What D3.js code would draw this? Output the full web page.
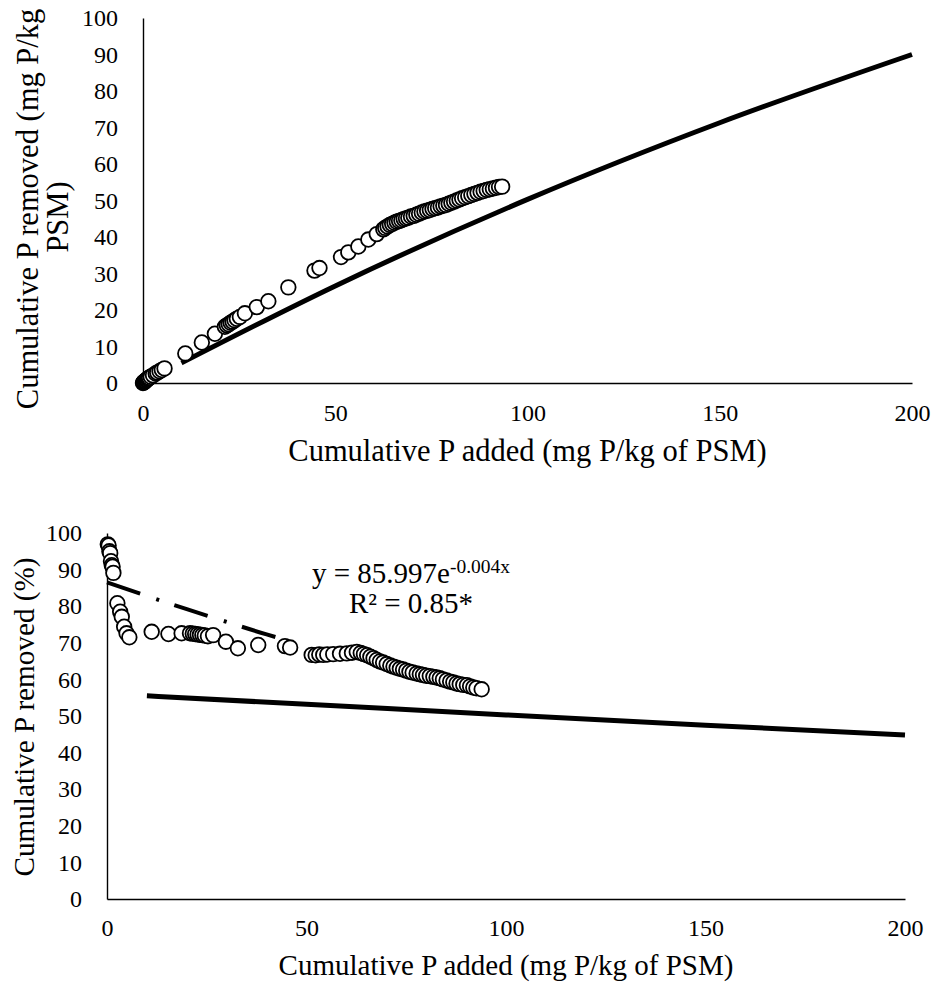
<!DOCTYPE html>
<html>
<head>
<meta charset="utf-8">
<script src="https://cdn.jsdelivr.net/npm/d3@7"></script>
<style>
  html, body { margin: 0; padding: 0; background: #fff; }
  text { font-family: "Liberation Serif", "Times New Roman", serif; fill: #000; }
</style>
</head>
<body>
<svg id="chart" width="935" height="987"></svg>
<script>
// ---------- DATA ----------
const xTicks = [0, 50, 100, 150, 200];
const yTicks = [0, 10, 20, 30, 40, 50, 60, 70, 80, 90, 100];

// Top panel: cumulative P added vs cumulative P removed (mg P/kg PSM)
const topAdded = [0, 0.1, 0.2, 0.3, 0.4, 0.5, 0.6, 0.8, 1.0, 1.2, 1.4, 1.6, 2.0, 2.6, 3.3, 3.7, 4.3, 4.9, 5.6,
  11.0, 15.3, 18.7, 21.3, 21.8, 22.3, 22.8, 23.3, 23.8, 24.4, 25.2, 26.5, 29.6, 32.6, 37.8, 44.6, 45.9,
  51.5, 53.4, 56.0, 58.6, 60.8, 62.5, 63.0, 63.6, 64.2, 64.8, 65.4, 66.0, 66.6, 67.2, 67.8, 68.4, 69.0,
  69.7, 70.4, 71.1, 71.8, 72.5, 73.2, 73.9, 74.6, 75.3, 76.0, 76.7, 77.4, 78.1, 78.8, 79.5, 80.2, 80.9,
  81.6, 82.3, 83.0, 83.8, 84.6, 85.4, 86.2, 87.0, 87.8, 88.6, 89.4, 90.2, 91.0, 91.8, 92.6, 93.4];
const topRemoved = [0, 0.1, 0.19, 0.29, 0.38, 0.47, 0.57, 0.74, 0.92, 1.09, 1.26, 1.43, 1.7, 2.1, 2.6, 2.85, 3.2, 3.56, 4.0,
  8.1, 11.1, 13.5, 15.4, 15.8, 16.1, 16.5, 16.8, 17.2, 17.6, 18.1, 19.1, 20.8, 22.4, 26.2, 30.8, 31.5,
  34.5, 35.8, 37.4, 39.3, 40.8, 42.1, 42.5, 42.9, 43.3, 43.6, 43.9, 44.2, 44.4, 44.6, 44.9, 45.1, 45.3,
  45.6, 45.8, 46.1, 46.4, 46.7, 47.0, 47.2, 47.4, 47.7, 47.9, 48.1, 48.4, 48.6, 48.8, 49.1, 49.4, 49.7,
  50.0, 50.3, 50.6, 50.9, 51.2, 51.5, 51.8, 52.1, 52.4, 52.6, 52.9, 53.1, 53.3, 53.5, 53.7, 53.8];

// Bottom panel: cumulative P added vs cumulative P removed (%)
const botAdded = [0.2, 0.4, 0.6, 0.8, 1.0, 1.2, 1.4, 1.6, 2.6, 3.3, 3.7, 4.3, 4.9, 5.6,
  11.2, 15.4, 18.7, 20.8, 21.5, 22.1, 22.7, 23.3, 23.9, 24.5, 25.3, 26.6, 29.8, 32.8, 37.9, 44.6, 45.9,
  51.3, 52.3, 53.2, 54.2, 55.2, 56.7, 58.4, 60.1, 61.4, 62.6, 63.6, 64.4, 65.2, 66.0, 66.8, 67.6, 68.4,
  69.2, 70.1, 71.0, 71.8, 72.6, 73.4, 74.2, 75.0, 75.8, 76.6, 77.6, 78.4, 79.2, 80.0, 80.9, 81.8, 82.6,
  83.4, 84.2, 85.1, 86.0, 86.8, 87.6, 88.4, 89.3, 90.2, 91.0, 91.8, 92.6, 93.9];
const botPct = [96.9, 96.6, 95.0, 94.5, 92.3, 91.2, 90.8, 89.1, 80.8, 78.5, 77.1, 74.4, 72.6, 71.5,
  73.0, 72.4, 72.6, 72.6, 72.5, 72.4, 72.3, 72.2, 72.1, 72.0, 71.8, 72.1, 70.3, 68.5, 69.4, 69.1, 68.7,
  66.7, 66.6, 66.8, 66.7, 66.8, 66.9, 67.0, 67.1, 67.3, 67.5, 67.2, 66.9, 66.6, 66.2, 65.8, 65.3, 64.9,
  64.6, 64.2, 63.8, 63.5, 63.2, 62.9, 62.7, 62.4, 62.1, 61.9, 61.6, 61.4, 61.2, 61.0, 60.9, 60.7, 60.5,
  60.3, 60.0, 59.7, 59.4, 59.2, 58.9, 58.7, 58.5, 58.4, 58.1, 57.8, 57.6, 57.3];

// Solid reference lines
const topLineX = [10, 50, 100, 150, 200];
const topLineY = [5.5, 26.6, 50.3, 71.3, 90.0];
const botLineX = [10, 50, 100, 150, 200];
const botLineY = [55.5, 53.2, 50.3, 47.5, 44.8];

// Exponential trend line (y = 85.997e^-0.004x), as drawn
const trendX = [0, 10, 20, 30, 40, 46];
const trendY = [86.5, 82.8, 79.2, 75.7, 72.3, 70.4];

const yTitleTop = ["Cumulative P removed (mg P/kg", "PSM)"];
const yTitleBot = "Cumulative P removed (%)";
const xTitle = "Cumulative P added (mg P/kg of PSM)";

// ---------- DRAW ----------
const svg = d3.select("#chart");
const SERIF = "'Liberation Serif', 'Times New Roman', serif";

function panel(cfg) {
  const x = d3.scaleLinear().domain([0, 200]).range([cfg.x0, cfg.x1]);
  const y = d3.scaleLinear().domain([0, 100]).range([cfg.y0, cfg.y1]);
  const g = svg.append("g");

  const xAxis = g.append("g").attr("transform", `translate(0,${cfg.y0})`)
    .call(d3.axisBottom(x).tickValues(xTicks).tickSize(0).tickPadding(cfg.xPad).tickFormat(d3.format("d")));
  xAxis.attr("font-size", 24).attr("font-family", SERIF);
  xAxis.select(".domain").attr("stroke", "#000").attr("stroke-width", 1.4);

  const yAxis = g.append("g").attr("transform", `translate(${cfg.x0},0)`)
    .call(d3.axisLeft(y).tickValues(yTicks).tickSize(0).tickPadding(25).tickFormat(d3.format("d")));
  yAxis.attr("font-size", 24).attr("font-family", SERIF);
  yAxis.select(".domain").attr("stroke", "#000").attr("stroke-width", 1.4);

  g.append("text").attr("x", (cfg.x0 + cfg.x1) / 2).attr("y", cfg.xTitleY)
    .attr("text-anchor", "middle").attr("font-size", cfg.titleSize).text(xTitle);

  return { g, x, y };
}

function drawLine(p, xs, ys, attrs) {
  const pts = xs.map((d, i) => [d, ys[i]]);
  const path = p.g.append("path").datum(pts)
    .attr("fill", "none").attr("stroke", "#000")
    .attr("d", d3.line().curve(d3.curveMonotoneX).x(d => p.x(d[0])).y(d => p.y(d[1])));
  Object.entries(attrs).forEach(([k, v]) => path.attr(k, v));
}

function drawPoints(p, xs, ys) {
  const pts = xs.map((d, i) => [d, ys[i]]);
  p.g.append("g").selectAll("circle").data(pts).join("circle")
    .attr("cx", d => p.x(d[0])).attr("cy", d => p.y(d[1])).attr("r", 7.3)
    .attr("fill", "#fff").attr("stroke", "#000").attr("stroke-width", 1.8);
}

// Top panel
const topPanel = panel({ x0: 143, x1: 912, y0: 383, y1: 18, xPad: 21, xTitleY: 461, titleSize: 30.5 });
drawLine(topPanel, topLineX, topLineY, { "stroke-width": 5 });
drawPoints(topPanel, topAdded, topRemoved);
svg.append("text").attr("transform", "translate(38,209) rotate(-90)")
  .attr("text-anchor", "middle").attr("font-size", 30.5).text(yTitleTop[0]);
svg.append("text").attr("transform", "translate(68,217) rotate(-90)")
  .attr("text-anchor", "middle").attr("font-size", 30.5).text(yTitleTop[1]);

// Bottom panel
const botPanel = panel({ x0: 107, x1: 905, y0: 899, y1: 533, xPad: 20, xTitleY: 975, titleSize: 29 });
drawLine(botPanel, botLineX, botLineY, { "stroke-width": 5 });
drawLine(botPanel, trendX, trendY, { "stroke-width": 4, "stroke-dasharray": "35,17,3,16" });
drawPoints(botPanel, botAdded, botPct);
svg.append("text").attr("transform", "translate(34,717) rotate(-90)")
  .attr("text-anchor", "middle").attr("font-size", 29.2).text(yTitleBot);

const eq = svg.append("text").attr("x", 312).attr("y", 583).attr("font-size", 29);
eq.append("tspan").text("y = 85.997e");
eq.append("tspan").attr("dy", -10).attr("font-size", 19.5).text("-0.004x");
svg.append("text").attr("x", 411).attr("y", 613).attr("text-anchor", "middle")
  .attr("font-size", 29).text("R² = 0.85*");
</script>
</body>
</html>
